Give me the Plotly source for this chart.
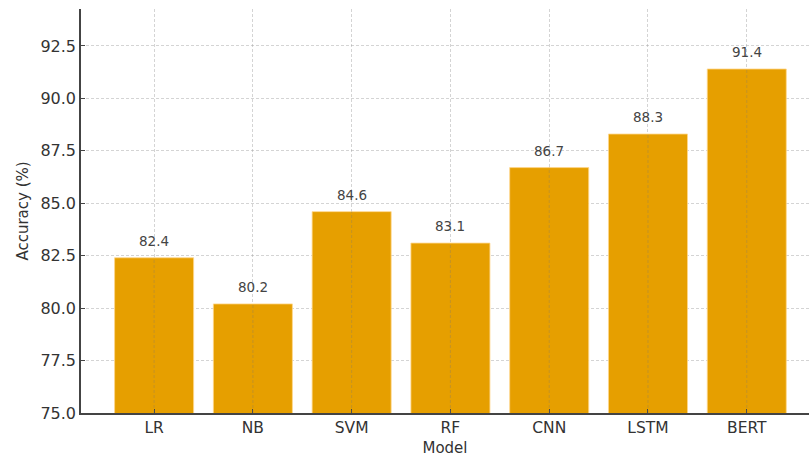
import plotly.graph_objects as go

models = ["LR", "NB", "SVM", "RF", "CNN", "LSTM", "BERT"]
accuracy = [82.4, 80.2, 84.6, 83.1, 86.7, 88.3, 91.4]
y_ticks = [75.0, 77.5, 80.0, 82.5, 85.0, 87.5, 90.0, 92.5]

bar_color = "#E69F00"
font_family = "DejaVu Sans"
y_min, y_max = 75, 94.26

x_pos = list(range(len(models)))

fig = go.Figure()
fig.add_trace(go.Bar(
    x=x_pos,
    y=accuracy,
    width=0.8,
    marker=dict(color=bar_color, line=dict(color="rgba(255,215,140,0.8)", width=1)),
    hoverinfo="skip",
))

# value labels above each bar
for xi, v in zip(x_pos, accuracy):
    fig.add_annotation(
        x=xi, y=v, text=f"{v:.1f}", showarrow=False,
        yanchor="bottom", yshift=7,
        font=dict(family=font_family, size=13.5, color="#444444"),
    )

# vertical grid lines stay visible across the bars
for xi, v in zip(x_pos, accuracy):
    fig.add_shape(
        type="line", xref="x", yref="y",
        x0=xi, x1=xi, y0=y_min, y1=v,
        line=dict(color="rgba(120,120,120,0.3)", width=1, dash="3px,2px"),
        layer="above",
    )

grid_color = "rgba(160,160,160,0.45)"

fig.update_layout(
    width=809, height=457,
    margin=dict(l=81, r=0, t=9, b=44),
    paper_bgcolor="white", plot_bgcolor="white",
    showlegend=False,
    font=dict(family=font_family, color="#333333"),
    xaxis=dict(
        range=[-0.74, 6.63],
        tickmode="array", tickvals=x_pos, ticktext=models,
        tickfont=dict(size=15.5, color="#333333"),
        ticks="inside", ticklen=4, tickcolor="#444444",
        showline=True, linecolor="#444444", linewidth=1.5,
        showgrid=True, gridcolor=grid_color, griddash="3px,2px", gridwidth=1,
        zeroline=False,
        layer="above traces",
        title=dict(text="Model", font=dict(size=15, color="#333333"), standoff=6),
    ),
    yaxis=dict(
        range=[y_min, y_max],
        tickmode="array", tickvals=y_ticks,
        ticktext=[f"{t:.1f}" for t in y_ticks],
        tickfont=dict(size=16, color="#333333"),
        ticks="inside", ticklen=4, tickcolor="#444444",
        showline=True, linecolor="#444444", linewidth=1.5,
        showgrid=True, gridcolor=grid_color, griddash="3px,2px", gridwidth=1,
        zeroline=False,
        layer="above traces",
        title=dict(text="Accuracy (%)", font=dict(size=15, color="#333333"), standoff=8),
    ),
)

fig.write_html("out.html")
